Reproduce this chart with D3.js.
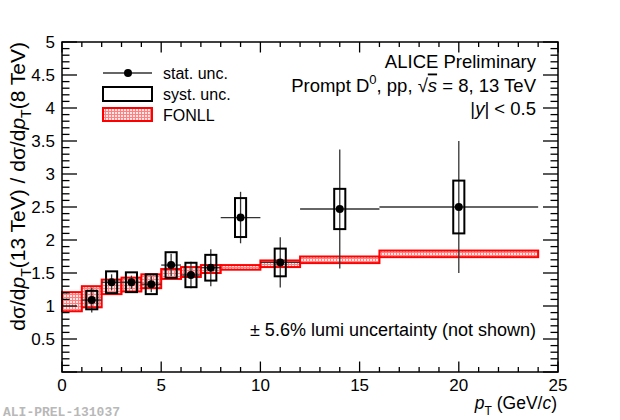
<!DOCTYPE html>
<html>
<head>
<meta charset="utf-8">
<script src="https://d3js.org/d3.v7.min.js"></script>
<style>
body { margin:0; background:#fff; }
text { font-family: "Liberation Sans", Arial, Helvetica, sans-serif; fill:#000; }
</style>
</head>
<body>
<div id="chart"></div>
<script>
// D0 cross section ratio 13 TeV / 8 TeV
var ptCenter   = [1.5, 2.5, 3.5, 4.5, 5.5, 6.5, 7.5, 9, 11, 14, 20];
var ptHalf     = [0.5, 0.5, 0.5, 0.5, 0.5, 0.5, 0.5, 1, 1, 2, 4];
var ratio      = [1.09, 1.36, 1.36, 1.33, 1.62, 1.47, 1.58, 2.34, 1.66, 2.47, 2.50];
var statErr    = [0.19, 0.12, 0.10, 0.12, 0.17, 0.20, 0.28, 0.39, 0.38, 0.90, 1.00];
var systErr    = [0.14, 0.165, 0.15, 0.15, 0.195, 0.185, 0.195, 0.295, 0.21, 0.305, 0.40];

// FONLL band
var fonllEdges = [0, 1, 2, 3, 4, 5, 6, 7, 8, 10, 12, 16, 24];
var fonllLow   = [0.92, 0.98, 1.18, 1.22, 1.27, 1.41, 1.44, 1.50, 1.55, 1.59, 1.65, 1.74];
var fonllHigh  = [1.21, 1.30, 1.40, 1.43, 1.48, 1.56, 1.59, 1.62, 1.62, 1.69, 1.75, 1.84];

var xTicks = [0, 5, 10, 15, 20, 25];
var yTicks = [0.5, 1, 1.5, 2, 2.5, 3, 3.5, 4, 4.5, 5];

var W = 620, H = 420;
var fLeft = 62, fRight = 558, fTop = 42, fBottom = 372;

var x = d3.scaleLinear().domain([0, 25]).range([fLeft, fRight]);
var y = d3.scaleLinear().domain([0, 5]).range([fBottom, fTop]);

var svg = d3.select("#chart").append("svg")
    .attr("width", W).attr("height", H);

var defs = svg.append("defs");
var pat = defs.append("pattern")
    .attr("id", "fonllPat")
    .attr("patternUnits", "userSpaceOnUse")
    .attr("width", 3).attr("height", 3);
pat.append("rect").attr("width", 3).attr("height", 3).attr("fill", "#ffe6e6");
pat.append("rect").attr("width", 3).attr("height", 1).attr("fill", "#ff8080");
pat.append("rect").attr("width", 1).attr("height", 3).attr("fill", "#ff8080");

// FONLL boxes
var fonll = fonllLow.map(function(d, i){
    return {x0: fonllEdges[i], x1: fonllEdges[i+1], lo: d, hi: fonllHigh[i]};
});
svg.append("g").selectAll("rect").data(fonll)
    .enter().append("rect")
    .attr("x", function(d){ return x(d.x0); })
    .attr("y", function(d){ return y(d.hi); })
    .attr("width", function(d){ return x(d.x1) - x(d.x0); })
    .attr("height", function(d){ return y(d.lo) - y(d.hi); })
    .attr("fill", "url(#fonllPat)")
    .attr("stroke", "#ff0000")
    .attr("stroke-width", 2);

var pts = ptCenter.map(function(d, i){
    return {pt: d, hw: ptHalf[i], v: ratio[i], stat: statErr[i], syst: systErr[i]};
});

// stat. error bars
var stat = svg.append("g").attr("stroke", "#333").attr("stroke-width", 1.3);
stat.selectAll(".hbar").data(pts).enter().append("line")
    .attr("x1", function(d){ return x(d.pt - d.hw); })
    .attr("x2", function(d){ return x(d.pt + d.hw); })
    .attr("y1", function(d){ return y(d.v); })
    .attr("y2", function(d){ return y(d.v); });
stat.selectAll(".vbar").data(pts).enter().append("line")
    .attr("x1", function(d){ return x(d.pt); })
    .attr("x2", function(d){ return x(d.pt); })
    .attr("y1", function(d){ return y(d.v + d.stat); })
    .attr("y2", function(d){ return y(d.v - d.stat); });

// syst. boxes
var boxHalf = 0.28;
svg.append("g").selectAll("rect").data(pts)
    .enter().append("rect")
    .attr("x", function(d){ return x(d.pt - boxHalf); })
    .attr("y", function(d){ return y(d.v + d.syst); })
    .attr("width", function(d){ return x(d.pt + boxHalf) - x(d.pt - boxHalf); })
    .attr("height", function(d){ return y(d.v - d.syst) - y(d.v + d.syst); })
    .attr("fill", "none")
    .attr("stroke", "#000")
    .attr("stroke-width", 2);

svg.append("g").selectAll("circle").data(pts)
    .enter().append("circle")
    .attr("cx", function(d){ return x(d.pt); })
    .attr("cy", function(d){ return y(d.v); })
    .attr("r", 4)
    .attr("fill", "#000");

// frame + ticks (ROOT style, ticks inside on all sides)
var axes = svg.append("g").attr("stroke", "#000").attr("stroke-width", 1.3);
axes.append("rect")
    .attr("x", fLeft).attr("y", fTop)
    .attr("width", fRight - fLeft).attr("height", fBottom - fTop)
    .attr("fill", "none").attr("stroke-width", 1.5);

d3.range(0, 26, 1).forEach(function(t){
    var len = (t % 5 == 0) ? 10.5 : 5;
    axes.append("line").attr("x1", x(t)).attr("x2", x(t)).attr("y1", fBottom).attr("y2", fBottom - len);
    axes.append("line").attr("x1", x(t)).attr("x2", x(t)).attr("y1", fTop).attr("y2", fTop + len);
});
d3.range(0, 51, 1).forEach(function(k){
    var t = k / 10;
    var len = (k % 5 == 0) ? 15 : 7.5;
    axes.append("line").attr("x1", fLeft).attr("x2", fLeft + len).attr("y1", y(t)).attr("y2", y(t));
    axes.append("line").attr("x1", fRight).attr("x2", fRight - len).attr("y1", y(t)).attr("y2", y(t));
});

svg.append("g").selectAll("text").data(xTicks)
    .enter().append("text")
    .attr("x", function(d){ return x(d); })
    .attr("y", 391)
    .attr("text-anchor", "middle")
    .style("font-size", "17px")
    .text(function(d){ return d; });

svg.append("g").selectAll("text").data(yTicks)
    .enter().append("text")
    .attr("x", 55)
    .attr("y", function(d){ return y(d) + 6; })
    .attr("text-anchor", "end")
    .style("font-size", "17px")
    .text(function(d){ return d; });

// axis titles
var xt = svg.append("text")
    .attr("x", fRight - 1).attr("y", 409)
    .attr("text-anchor", "end")
    .style("font-size", "17.5px");
xt.append("tspan").style("font-style", "italic").text("p");
xt.append("tspan").attr("dy", 6).style("font-size", "12px").text("T");
xt.append("tspan").attr("dy", -6).text(" (GeV/");
xt.append("tspan").style("font-style", "italic").text("c");
xt.append("tspan").text(")");

var yt = svg.append("text")
    .attr("transform", "translate(25," + fTop + ") rotate(-90)")
    .attr("text-anchor", "end")
    .style("font-size", "21px");
yt.append("tspan").text("d\u03c3/d");
yt.append("tspan").style("font-style", "italic").text("p");
yt.append("tspan").attr("dy", 6).style("font-size", "14px").text("T");
yt.append("tspan").attr("dy", -6).text("(13 TeV) / d\u03c3/d");
yt.append("tspan").style("font-style", "italic").text("p");
yt.append("tspan").attr("dy", 6).style("font-size", "14px").text("T");
yt.append("tspan").attr("dy", -6).text("(8 TeV)");

// top-right labels
var txtX = 536;
svg.append("text").attr("x", txtX).attr("y", 68).attr("text-anchor", "end")
    .style("font-size", "18.5px").text("ALICE Preliminary");
var l2 = svg.append("text").attr("x", txtX).attr("y", 91.5).attr("text-anchor", "end")
    .style("font-size", "18.5px");
l2.append("tspan").text("Prompt D");
l2.append("tspan").attr("dy", -8).style("font-size", "13px").text("0");
l2.append("tspan").attr("dy", 8).text(", pp, \u221a");
l2.append("tspan").style("font-style", "italic").style("text-decoration", "overline").text("s");
l2.append("tspan").text(" = 8, 13 TeV");
var l3 = svg.append("text").attr("x", txtX).attr("y", 115).attr("text-anchor", "end")
    .style("font-size", "18.5px");
l3.append("tspan").text("|");
l3.append("tspan").style("font-style", "italic").text("y");
l3.append("tspan").text("| < 0.5");

svg.append("text").attr("x", txtX).attr("y", 336).attr("text-anchor", "end")
    .style("font-size", "18px").text("\u00b1 5.6% lumi uncertainty (not shown)");

// legend
var leg = svg.append("g");
leg.append("line").attr("x1", 103).attr("x2", 152).attr("y1", 73).attr("y2", 73)
    .attr("stroke", "#333").attr("stroke-width", 1.3);
leg.append("circle").attr("cx", 128).attr("cy", 73).attr("r", 4).attr("fill", "#000");
leg.append("rect").attr("x", 103).attr("y", 87).attr("width", 49).attr("height", 14)
    .attr("fill", "none").attr("stroke", "#000").attr("stroke-width", 2);
leg.append("rect").attr("x", 103).attr("y", 108).attr("width", 49).attr("height", 13)
    .attr("fill", "url(#fonllPat)").attr("stroke", "#ff0000").attr("stroke-width", 2);
var legLabels = ["stat. unc.", "syst. unc.", "FONLL"];
leg.selectAll("text").data(legLabels).enter().append("text")
    .attr("x", 163)
    .attr("y", function(d, i){ return 78.5 + i * 21; })
    .style("font-size", "16px")
    .text(function(d){ return d; });

// watermark
svg.append("text").attr("x", 3).attr("y", 416)
    .style("font-family", "'Liberation Mono', 'DejaVu Sans Mono', monospace")
    .style("font-size", "13px").style("font-weight", "bold").style("fill", "#b8b8b8")
    .text("ALI-PREL-131037");
</script>
</body>
</html>
